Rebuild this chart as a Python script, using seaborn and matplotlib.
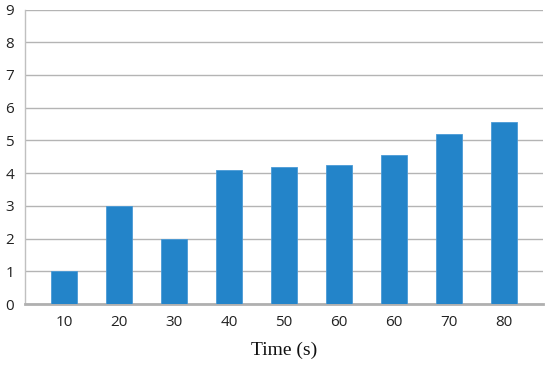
import pandas as pd
import matplotlib
matplotlib.use("Agg")
import matplotlib.pyplot as plt
import seaborn as sns

times = ["10", "20", "30", "40", "50", "60", "60", "70", "80"]
values = [1.0, 3.0, 2.0, 4.09, 4.2, 4.25, 4.55, 5.2, 5.55]

df = pd.DataFrame({"pos": range(len(times)), "value": values})

sns.set_style("white")
plt.rcParams["font.family"] = ["Open Sans", "DejaVu Sans"]

fig = plt.figure(figsize=(5.5, 3.66), dpi=100)
ax = fig.add_axes([0.0455, 0.169, 0.942, 0.805])

sns.barplot(data=df, x="pos", y="value", color="#2384c9", width=0.47,
            saturation=1, edgecolor="#4a9ad6", linewidth=0.6, ax=ax, zorder=3)

ax.set_xticks(range(len(times)), labels=times)
ax.set_xlim(-0.71, 8.71)
ax.set_ylim(0, 9)
ax.set_yticks(range(10))
ax.yaxis.grid(True, color="#b4b4b4", linewidth=1.0, zorder=0)
ax.set_axisbelow(True)

for s in ["top", "right"]:
    ax.spines[s].set_visible(False)
ax.spines["left"].set_color("#c0c0c0")
ax.spines["left"].set_linewidth(1.0)
ax.spines["bottom"].set_color("#b0b0b0")
ax.spines["bottom"].set_linewidth(2.0)

ax.tick_params(axis="both", length=0, labelsize=11, colors="#222222")
ax.tick_params(axis="y", pad=8)
ax.tick_params(axis="x", pad=8)

ax.set_ylabel("")
ax.set_xlabel("Time (s)", family="Liberation Serif", fontsize=14, labelpad=8,
              color="#111111")

fig.savefig("out.png", dpi=100)
